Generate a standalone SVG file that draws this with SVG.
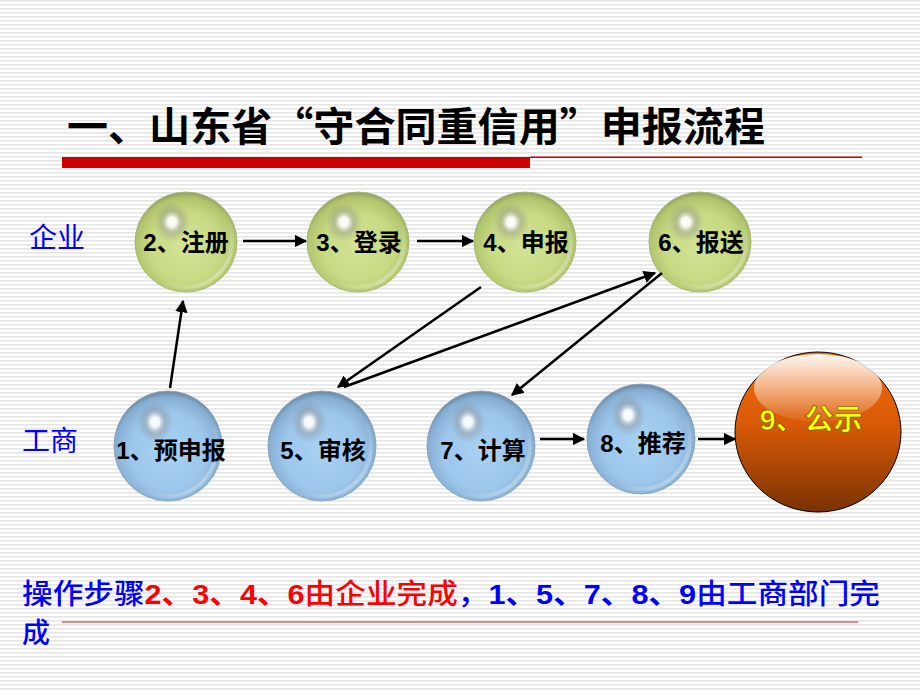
<svg xmlns="http://www.w3.org/2000/svg" width="920" height="690" viewBox="0 0 920 690">
  <defs>
    <pattern id="stripes" x="0" y="0" width="8" height="4" patternUnits="userSpaceOnUse">
      <rect x="0" y="0" width="8" height="4" fill="#ffffff"/>
      <rect x="0" y="0" width="8" height="1.6" fill="#e6e6e6"/>
    </pattern>
    <radialGradient id="gGreen" cx="50%" cy="55%" r="55%">
      <stop offset="0%" stop-color="#d3e496"/>
      <stop offset="65%" stop-color="#c6d982"/>
      <stop offset="90%" stop-color="#b0c46c"/>
      <stop offset="100%" stop-color="#8f9e62"/>
    </radialGradient>
    <radialGradient id="gBlue" cx="50%" cy="55%" r="55%">
      <stop offset="0%" stop-color="#a9d2f4"/>
      <stop offset="65%" stop-color="#9cc6ea"/>
      <stop offset="90%" stop-color="#86aed2"/>
      <stop offset="100%" stop-color="#6a849c"/>
    </radialGradient>
    <radialGradient id="gHi" cx="50%" cy="50%" r="50%">
      <stop offset="0%" stop-color="#ffffff" stop-opacity="1"/>
      <stop offset="25%" stop-color="#ffffff" stop-opacity="0.85"/>
      <stop offset="60%" stop-color="#8a8a8a" stop-opacity="0.35"/>
      <stop offset="100%" stop-color="#8a8a8a" stop-opacity="0"/>
    </radialGradient>
    <linearGradient id="gRim" x1="0" y1="0" x2="1" y2="1">
      <stop offset="60%" stop-color="#ffffff" stop-opacity="0"/>
      <stop offset="90%" stop-color="#ffffff" stop-opacity="0.35"/>
      <stop offset="100%" stop-color="#ffffff" stop-opacity="0"/>
    </linearGradient>
    <linearGradient id="gOrange" x1="0" y1="0" x2="0" y2="1">
      <stop offset="0%" stop-color="#f36c0c"/>
      <stop offset="45%" stop-color="#d95a06"/>
      <stop offset="100%" stop-color="#7a3204"/>
    </linearGradient>
    <linearGradient id="gGloss" x1="0" y1="0" x2="0" y2="1">
      <stop offset="0%" stop-color="#ffffff" stop-opacity="0.95"/>
      <stop offset="100%" stop-color="#ffffff" stop-opacity="0.05"/>
    </linearGradient>
    <marker id="arr" viewBox="0 0 10 10" refX="9" refY="5" markerWidth="5" markerHeight="5" orient="auto" markerUnits="strokeWidth">
      <path d="M0,0 L10,5 L0,10 z" fill="#000"/>
    </marker>
    <style>
      .green { fill: url(#gGreen); stroke: #a8b878; stroke-width: 1; }
      .blue { fill: url(#gBlue); stroke: #8aa6c0; stroke-width: 1; }
      .hi { fill: url(#gHi); }
      .rim { fill: none; stroke: url(#gRim); stroke-width: 4; }
      .lbl { font-family: "Liberation Sans", "Noto Sans CJK SC", sans-serif; font-weight: bold; font-size: 24px; fill: #000; text-anchor: middle; }
      .side { font-family: "Noto Sans CJK SC", sans-serif; font-size: 28px; fill: #0000ff; }
      .conn { stroke: #000; stroke-width: 2.5; fill: none; marker-end: url(#arr); }
      .cn { font-family: "Noto Sans CJK SC", sans-serif; font-weight: 500; }
    </style>
  </defs>

  <rect x="0" y="0" width="920" height="690" fill="url(#stripes)"/>

  <g id="title">
    <text x="67" y="141" font-family="Noto Sans CJK SC, sans-serif" font-weight="bold" font-size="40" fill="#000" textLength="698" lengthAdjust="spacingAndGlyphs">一、山东省“守合同重信用”申报流程</text>
    <rect x="62" y="157" width="468" height="11" fill="#cc0000"/>
    <rect x="530" y="156.5" width="332" height="1.5" fill="#cc0000"/>
  </g>

  <g id="lane-labels">
    <text class="side" x="29" y="248">企业</text>
    <text class="side" x="22" y="451">工商</text>
  </g>

  <g id="n2">
    <ellipse class="green" cx="186" cy="242" rx="51" ry="50"/>
    <ellipse class="rim" cx="186" cy="242" rx="46" ry="45"/>
    <ellipse class="hi" cx="172" cy="222" rx="18" ry="20"/>
    <text class="lbl" x="186" y="251">2、注册</text>
  </g>
  <g id="n3">
    <ellipse class="green" cx="358" cy="242" rx="51" ry="50"/>
    <ellipse class="rim" cx="358" cy="242" rx="46" ry="45"/>
    <ellipse class="hi" cx="344" cy="222" rx="18" ry="20"/>
    <text class="lbl" x="359" y="251">3、登录</text>
  </g>
  <g id="n4">
    <ellipse class="green" cx="525" cy="242" rx="51" ry="50"/>
    <ellipse class="rim" cx="525" cy="242" rx="46" ry="45"/>
    <ellipse class="hi" cx="511" cy="222" rx="18" ry="20"/>
    <text class="lbl" x="526" y="251">4、申报</text>
  </g>
  <g id="n6">
    <ellipse class="green" cx="700" cy="242" rx="51" ry="50"/>
    <ellipse class="rim" cx="700" cy="242" rx="46" ry="45"/>
    <ellipse class="hi" cx="686" cy="222" rx="18" ry="20"/>
    <text class="lbl" x="701" y="251">6、报送</text>
  </g>

  <g id="n1">
    <ellipse class="blue" cx="168" cy="446" rx="54" ry="55"/>
    <ellipse class="rim" cx="168" cy="446" rx="49" ry="50"/>
    <ellipse class="hi" cx="155" cy="422" rx="18" ry="21"/>
    <text class="lbl" x="171" y="459">1、预申报</text>
  </g>
  <g id="n5">
    <ellipse class="blue" cx="322" cy="446" rx="54" ry="55"/>
    <ellipse class="rim" cx="322" cy="446" rx="49" ry="50"/>
    <ellipse class="hi" cx="309" cy="422" rx="18" ry="21"/>
    <text class="lbl" x="323" y="459">5、审核</text>
  </g>
  <g id="n7">
    <ellipse class="blue" cx="481" cy="446" rx="54" ry="55"/>
    <ellipse class="rim" cx="481" cy="446" rx="49" ry="50"/>
    <ellipse class="hi" cx="468" cy="422" rx="18" ry="21"/>
    <text class="lbl" x="483" y="459">7、计算</text>
  </g>
  <g id="n8">
    <ellipse class="blue" cx="641" cy="439" rx="54" ry="55"/>
    <ellipse class="rim" cx="641" cy="439" rx="49" ry="50"/>
    <ellipse class="hi" cx="628" cy="415" rx="18" ry="21"/>
    <text class="lbl" x="643" y="452">8、推荐</text>
  </g>
  <g id="n9">
    <ellipse cx="818" cy="432" rx="83" ry="80" fill="url(#gOrange)" stroke="#000" stroke-width="1"/>
    <ellipse cx="818" cy="388" rx="64" ry="34" fill="url(#gGloss)"/>
    <text x="811" y="430" font-family="Liberation Sans, Noto Sans CJK SC, sans-serif" font-weight="bold" font-size="29" fill="#ffff00" stroke="#5a4a00" stroke-width="0.6" text-anchor="middle">9、公示</text>
  </g>

  <g id="connectors">
    <line class="conn" x1="243" y1="241" x2="306" y2="241"/>
    <line class="conn" x1="417" y1="241" x2="473" y2="241"/>
    <line class="conn" x1="170" y1="388" x2="183" y2="301"/>
    <line class="conn" x1="481" y1="287" x2="338" y2="387"/>
    <line class="conn" x1="344" y1="387" x2="655" y2="273"/>
    <line class="conn" x1="662" y1="273" x2="512" y2="395"/>
    <line class="conn" x1="540" y1="439" x2="584" y2="439"/>
    <line class="conn" x1="698" y1="439" x2="735" y2="439"/>
  </g>

  <g id="note">
    <text x="22" y="604" font-family="Liberation Sans, Noto Sans CJK SC, sans-serif" font-weight="bold" font-size="28" textLength="858" lengthAdjust="spacingAndGlyphs"><tspan class="cn" fill="#0000ff">操作步骤</tspan><tspan fill="#ff0000">2、3、4、6</tspan><tspan class="cn" fill="#ff0000">由企业完成</tspan><tspan class="cn" fill="#0000ff">，</tspan><tspan fill="#0000ff">1、5、7、8、9</tspan><tspan class="cn" fill="#0000ff">由工商部门完</tspan></text>
    <text class="cn" x="22" y="643" font-size="28" fill="#0000ff">成</text>
    <rect x="62" y="621" width="796" height="2" fill="#e08c8c"/>
  </g>
</svg>
